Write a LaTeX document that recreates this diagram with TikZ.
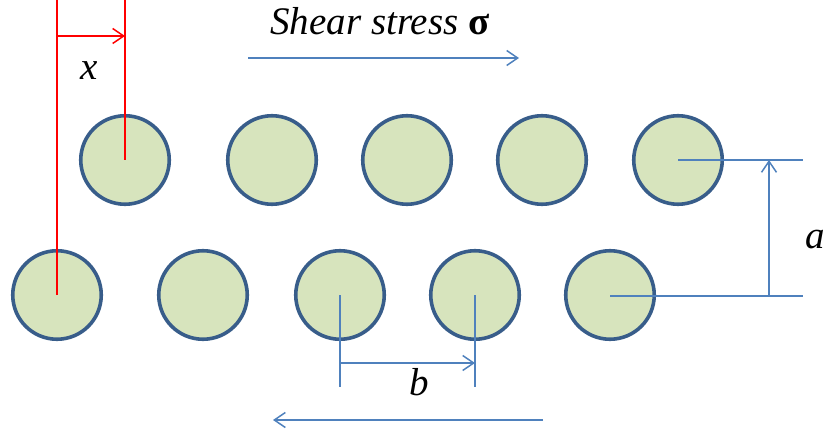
\documentclass[tikz,border=0pt]{standalone}
\usepackage{fontspec}
\setmainfont{Liberation Serif}
\usetikzlibrary{arrows.meta}

\begin{document}
\begin{tikzpicture}[x=1pt,y=-1pt]
\definecolor{discfill}{RGB}{215,228,189}
\definecolor{discedge}{RGB}{56,93,138}
\definecolor{dimblue}{RGB}{79,129,189}
\tikzset{
  disc/.style={circle,draw=discedge,fill=discfill,line width=3.6pt,
    minimum size=88.5pt,inner sep=0pt},
  dimline/.style={dimblue,line width=1.7pt},
  redline/.style={red,line width=1.8pt},
  barb/.style={-{Straight Barb[length=11pt,width=15pt,line width=1.5pt]}},
  lbl/.style={font=\fontsize{39}{41}\selectfont\itshape}
}
\useasboundingbox (0,0) rectangle (825,433);

% Two staggered rows of fibres.
\foreach \px [count=\i] in {125,272,407,542,678}
  \node[disc] (t\i) at (\px,160) {};
\foreach \px [count=\i] in {57,203,340,475,610}
  \node[disc] (b\i) at (\px,295) {};

% Offset x between the rows.
\coordinate (xl) at (57,0);
\coordinate (xr) at (125,0);
\draw[redline] (b1.center) -- (xl);
\draw[redline] (t1.center) -- (xr);
\draw[redline,barb] (57,36) -- (125,36);
\node[lbl,anchor=base] (xlab) at (89,80) {x};

% Spacing b along a row.
\coordinate (bl) at (340,387);
\coordinate (br) at (475,387);
\draw[dimline] (b3.center) -- (bl);
\draw[dimline] (b4.center) -- (br);
\draw[dimline,barb] (340,363) -- (475,363);
\node[lbl,anchor=base] (blab) at (419,395) {b};

% Row distance a.
\coordinate (at) at (803,160);
\coordinate (ab) at (803,296);
\draw[dimline] (t5.center) -- (at);
\draw[dimline] (b5.center |- ab) -- (ab);
\draw[dimline,barb] (769,296) -- (769,160);
\node[lbl,anchor=base] (alab) at (815,248) {a};

% Applied shear.
\node[lbl,anchor=base] (shear) at (380,35) {Shear stress \textup{\textbf{σ}}};
\coordinate (sa) at (248,58);
\coordinate (sb) at (519,58);
\draw[dimline,barb] (sa) -- (sb);
\coordinate (sc) at (543,420);
\coordinate (sd) at (273,420);
\draw[dimline,barb] (sc) -- (sd);
\end{tikzpicture}
\end{document}
